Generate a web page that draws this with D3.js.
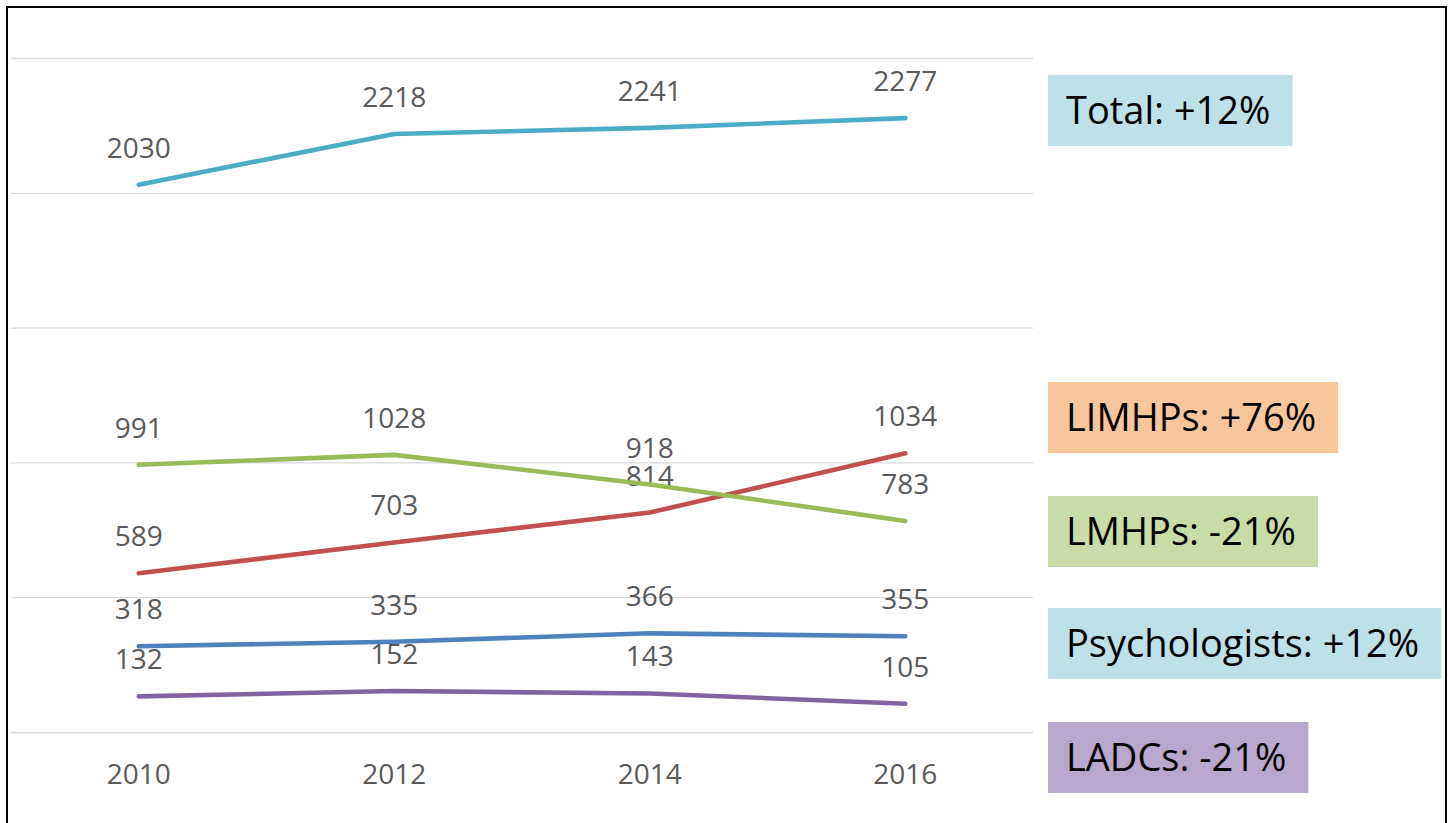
<!DOCTYPE html>
<html>
<head>
<meta charset="utf-8">
<script src="https://cdn.jsdelivr.net/npm/d3@7"></script>
<style>
  html, body { margin: 0; padding: 0; background: #fff; }
  svg { display: block; }
</style>
</head>
<body>
<div id="canvas"></div>
<script>
// chart values
const years = ["2010", "2012", "2014", "2016"];
const total = [2030, 2218, 2241, 2277];
const limhps = [589, 703, 814, 1034];
const lmhps = [991, 1028, 918, 783];
const psychologists = [318, 335, 366, 355];
const ladcs = [132, 152, 143, 105];
const yTicks = [0, 500, 1000, 1500, 2000, 2500];
const legendLabels = ["Total: +12%", "LIMHPs: +76%", "LMHPs: -21%", "Psychologists: +12%", "LADCs: -21%"];

const seriesValues = [total, limhps, lmhps, psychologists, ladcs];
const lineColors = ["#4BACC6", "#C0504D", "#9BBB59", "#4F81BD", "#8064A2"];
const boxColors = ["#BEE0E8", "#F9C59A", "#C9DBA6", "#BEE0E8", "#B9A8CE"];
// top of each legend box, in px
const boxTops = [75, 382, 496, 608, 722];

const width = 1450;
const height = 823;
const margin = { top: 58, left: 11, bottom: 91, right: 417 };
const iwidth = width - margin.left - margin.right;
const iheight = height - margin.top - margin.bottom;

const svg = d3.select("#canvas").append("svg")
  .attr("width", width)
  .attr("height", height);

// frame round the picture (no bottom edge visible)
svg.append("path")
  .attr("d", `M7,${height + 5}V7H1446V${height + 5}`)
  .attr("fill", "none")
  .attr("stroke", "#000")
  .attr("stroke-width", 2);

const g = svg.append("g").attr("transform", `translate(${margin.left},${margin.top})`);

const x = d3.scaleBand().domain(years).range([0, iwidth]).padding(0);
const y = d3.scaleLinear().domain([0, 2500]).range([iheight, 0]);
const cx = d => x(d) + x.bandwidth() / 2;

// gridlines
const grid = g.append("g")
  .call(d3.axisLeft(y).tickValues(yTicks).tickSize(-iwidth).tickFormat(""));
grid.select(".domain").remove();
grid.selectAll(".tick line").attr("stroke", "#D9D9D9").attr("stroke-width", 1.3);

// category labels
const xa = g.append("g")
  .attr("transform", `translate(0,${iheight})`)
  .call(d3.axisBottom(x).tickSize(0).tickPadding(32));
xa.select(".domain").remove();
xa.selectAll("text")
  .attr("fill", "#595959")
  .style("font-family", "'Open Sans', sans-serif")
  .style("font-size", "28px");

const line = d3.line()
  .x((d, i) => cx(years[i]))
  .y(d => y(d));

seriesValues.forEach((vals, s) => {
  g.append("path")
    .datum(vals)
    .attr("fill", "none")
    .attr("stroke", lineColors[s])
    .attr("stroke-width", 4.6)
    .attr("stroke-linecap", "round")
    .attr("stroke-linejoin", "round")
    .attr("d", line);

  g.selectAll(null)
    .data(vals)
    .enter().append("text")
    .attr("x", (d, i) => cx(years[i]))
    .attr("y", d => y(d) - 27)
    .attr("text-anchor", "middle")
    .attr("fill", "#595959")
    .style("font-family", "'Open Sans', sans-serif")
    .style("font-size", "28px")
    .text(d => d);
});

// labelled boxes on the right
legendLabels.forEach((lab, s) => {
  const box = svg.append("g").attr("transform", `translate(1048,${boxTops[s]})`);
  const rect = box.append("rect")
    .attr("height", 71)
    .attr("fill", boxColors[s]);
  const t = box.append("text")
    .attr("x", 18)
    .attr("y", 49)
    .attr("fill", "#000")
    .style("font-family", "'Open Sans', sans-serif")
    .style("font-size", "38px")
    .text(lab);
  rect.attr("width", t.node().getComputedTextLength() + 40);
});
</script>
</body>
</html>
